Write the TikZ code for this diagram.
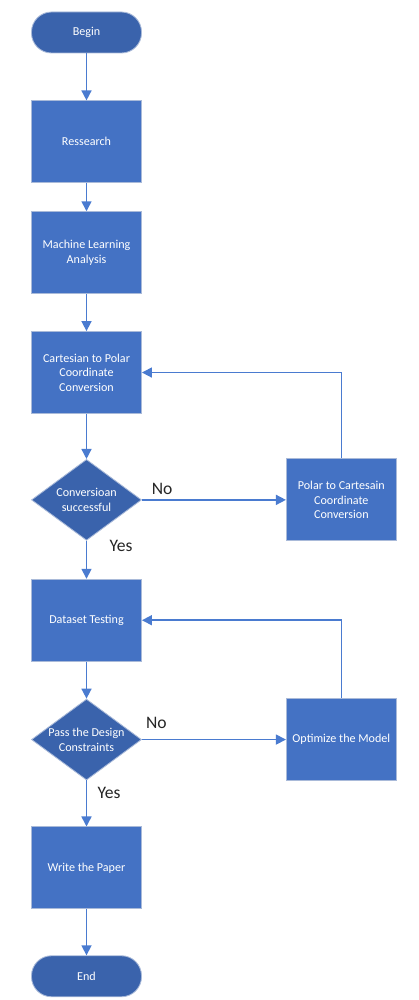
\documentclass[tikz,border=0pt]{standalone}
\usepackage{fontspec}
\setmainfont{Carlito}
\usepackage{tikz}
\usetikzlibrary{
  arrows.meta,
  positioning,
  shapes.geometric
}
\definecolor{BoxBlue}{HTML}{4472C4}
\definecolor{DarkBlue}{HTML}{3A63AC}
\definecolor{EdgeGray}{HTML}{A9BAD9}
\definecolor{LineBlue}{HTML}{4A7BD0}
\definecolor{LabelInk}{HTML}{262626}
\tikzset{
  flowbox/.style={
    draw=EdgeGray,
    fill=BoxBlue,
    line width=0.6pt,
    minimum width=2.75cm,
    minimum height=2.05cm,
    align=center,
    text=white,
    font=\fontsize{8.6}{10.4}\selectfont,
    inner sep=1mm
  },
  termbox/.style={flowbox,fill=DarkBlue,minimum height=1.025cm,rounded corners=5mm},
  decbox/.style={flowbox,fill=DarkBlue,shape=diamond,aspect=1.35,inner sep=-5pt,minimum height=2.025cm},
  flowarrow/.style={-{Triangle[length=2.5mm,width=2.5mm]},line width=1.1pt,draw=LineBlue},
  answer/.style={font=\fontsize{12.5}{14}\selectfont,text=LabelInk}
}

\begin{document}
\begin{tikzpicture}[node distance=1cm]
  \useasboundingbox (0,0) rectangle (10.45,-25);

  \node[termbox] (begin) at (2.1625,-0.8125) {Begin};
  \node[flowbox, below=1.175cm of begin] (research) {Ressearch};
  \node[flowbox, below=0.7cm of research] (mlearn) {Machine Learning\\Analysis};
  \node[flowbox, below=0.925cm of mlearn] (cartpol) {Cartesian to Polar\\Coordinate\\Conversion};
  \node[decbox, below=1.125cm of cartpol] (convok) {Conversioan\\successful};
  \node[flowbox, right=3.6cm of convok] (polcart) {Polar to Cartesain\\Coordinate\\Conversion};
  \node[flowbox, below=0.95cm of convok] (dataset) {Dataset Testing};
  \node[decbox, below=0.925cm of dataset] (design) {Pass the Design\\Constraints};
  \node[flowbox, right=3.6cm of design] (optim) {Optimize the Model};
  \node[flowbox, below=1.15cm of design] (paper) {Write the Paper};
  \node[termbox, below=1.15cm of paper] (finish) {End};

  \draw[flowarrow] (begin) -- (research);
  \draw[flowarrow] (research) -- (mlearn);
  \draw[flowarrow] (mlearn) -- (cartpol);
  \draw[flowarrow] (cartpol) -- (convok);
  \draw[flowarrow] (convok.east) -- (polcart.west) node[answer,pos=0.14,above]{No};
  \draw[flowarrow] (polcart.north) |- (cartpol.east);
  \draw[flowarrow] (convok.south) -- (dataset.north) node[answer,pos=0.13,right=0.44cm]{Yes};
  \draw[flowarrow] (dataset) -- (design);
  \draw[flowarrow] (design.east) -- (optim.west) node[answer,pos=0.1,above=4pt]{No};
  \draw[flowarrow] (optim.north) |- (dataset.east);
  \draw[flowarrow] (design.south) -- (paper.north) node[answer,pos=0.27,right=4pt]{Yes};
  \draw[flowarrow] (paper) -- (finish);
\end{tikzpicture}
\end{document}
